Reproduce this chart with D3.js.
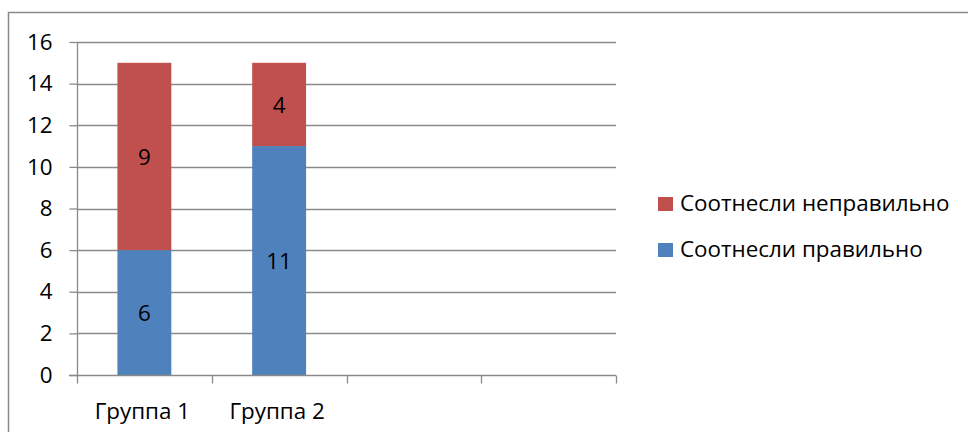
<!DOCTYPE html>
<html><head><meta charset="utf-8">
<script src="https://cdn.jsdelivr.net/npm/d3@7"></script>
<style>
html,body{margin:0;padding:0;background:#fff;}
text{font-family:"Open Sans",sans-serif;fill:#000;}
</style></head>
<body>
<svg id="chart" width="968" height="432"></svg>
<script>
const categories = ["Группа 1", "Группа 2", "", ""];
const seriesNames = ["Соотнесли правильно", "Соотнесли неправильно"];
const correct = [6, 11, null, null];
const incorrect = [9, 4, null, null];
const yTicks = [0, 2, 4, 6, 8, 10, 12, 14, 16];
const colors = ["#4F81BD", "#C0504D"];

const svg = d3.select("#chart");
const fontSize = 22.4;

// outer chart border (left + top visible)
svg.append("rect").attr("x", 8.5).attr("y", 12.5).attr("width", 1000).attr("height", 500)
  .attr("fill", "none").attr("stroke", "#8a8a8a").attr("stroke-width", 1.5);

const x = d3.scaleBand().domain(d3.range(categories.length)).range([77, 616]).padding(0);
const y = d3.scaleLinear().domain([0, 16]).range([375, 42]);

// gridlines
svg.append("g").selectAll("line").data(yTicks.filter(d => d > 0)).join("line")
  .attr("x1", 77).attr("x2", 616)
  .attr("y1", d => Math.round(y(d)) + 0.5).attr("y2", d => Math.round(y(d)) + 0.5)
  .attr("stroke", "#8a8a8a").attr("stroke-width", 1.3);

// stacked data
const rows = categories.map((c, i) => ({i, c, v0: correct[i], v1: incorrect[i]}));
const stack = d3.stack().keys(["v0", "v1"]).value((d, k) => d[k] == null ? 0 : d[k]);
const stacked = stack(rows);

const barW = x.bandwidth() * 0.4;
const gBars = svg.append("g");
stacked.forEach((layer, li) => {
  const key = li === 0 ? "v0" : "v1";
  const data = layer.filter(d => d.data[key] != null);
  gBars.selectAll(null).data(data).join("rect")
    .attr("x", d => x(d.data.i) + (x.bandwidth() - barW) / 2)
    .attr("width", barW)
    .attr("y", d => y(d[1]))
    .attr("height", d => y(d[0]) - y(d[1]))
    .attr("fill", colors[li]);
  gBars.selectAll(null).data(data).join("text")
    .attr("x", d => x(d.data.i) + x.bandwidth() / 2)
    .attr("y", d => y((d[0] + d[1]) / 2))
    .attr("dy", "0.36em")
    .attr("text-anchor", "middle")
    .attr("font-size", fontSize)
    .text(d => d[1] - d[0]);
});

// y axis
const yAxis = d3.axisLeft(y).tickValues(yTicks).tickSize(8).tickPadding(17).tickFormat(d3.format("d"));
const gy = svg.append("g").attr("transform", "translate(77.5,0)").call(yAxis);
gy.select(".domain").attr("stroke", "#8a8a8a").attr("stroke-width", 1.3).attr("d", `M0,${y(16)}V${y(0)}`);
gy.selectAll(".tick line").attr("stroke", "#8a8a8a").attr("stroke-width", 1.3);
gy.selectAll(".tick text").attr("font-size", fontSize).attr("font-family", "Open Sans").attr("fill", "#000");

// x axis
const gx = svg.append("g").attr("transform", "translate(0,375.5)");
gx.append("line").attr("x1", 69).attr("x2", 616).attr("y1", 0).attr("y2", 0)
  .attr("stroke", "#8a8a8a").attr("stroke-width", 1.3);
const edges = d3.range(categories.length + 1).map(i => i < categories.length ? x(i) : x(categories.length - 1) + x.bandwidth());
gx.selectAll("line.t").data(edges).join("line").attr("class", "t")
  .attr("x1", d => Math.round(d) + 0.5).attr("x2", d => Math.round(d) + 0.5)
  .attr("y1", 0).attr("y2", 8).attr("stroke", "#8a8a8a").attr("stroke-width", 1.3);
gx.selectAll("text").data(rows).join("text")
  .attr("x", d => x(d.i) + x.bandwidth() / 2 - 2)
  .attr("y", 43)
  .attr("text-anchor", "middle")
  .attr("font-size", fontSize)
  .text(d => d.c);

// legend (reverse order: incorrect on top)
const legendItems = [{name: seriesNames[1], color: colors[1]}, {name: seriesNames[0], color: colors[0]}];
const lg = svg.append("g");
legendItems.forEach((it, i) => {
  const yy = 197 + i * 46;
  lg.append("rect").attr("x", 658).attr("y", yy).attr("width", 15).attr("height", 14).attr("fill", it.color);
  lg.append("text").attr("x", 680).attr("y", yy + 14).attr("font-size", fontSize).text(it.name);
});
</script>
</body></html>
